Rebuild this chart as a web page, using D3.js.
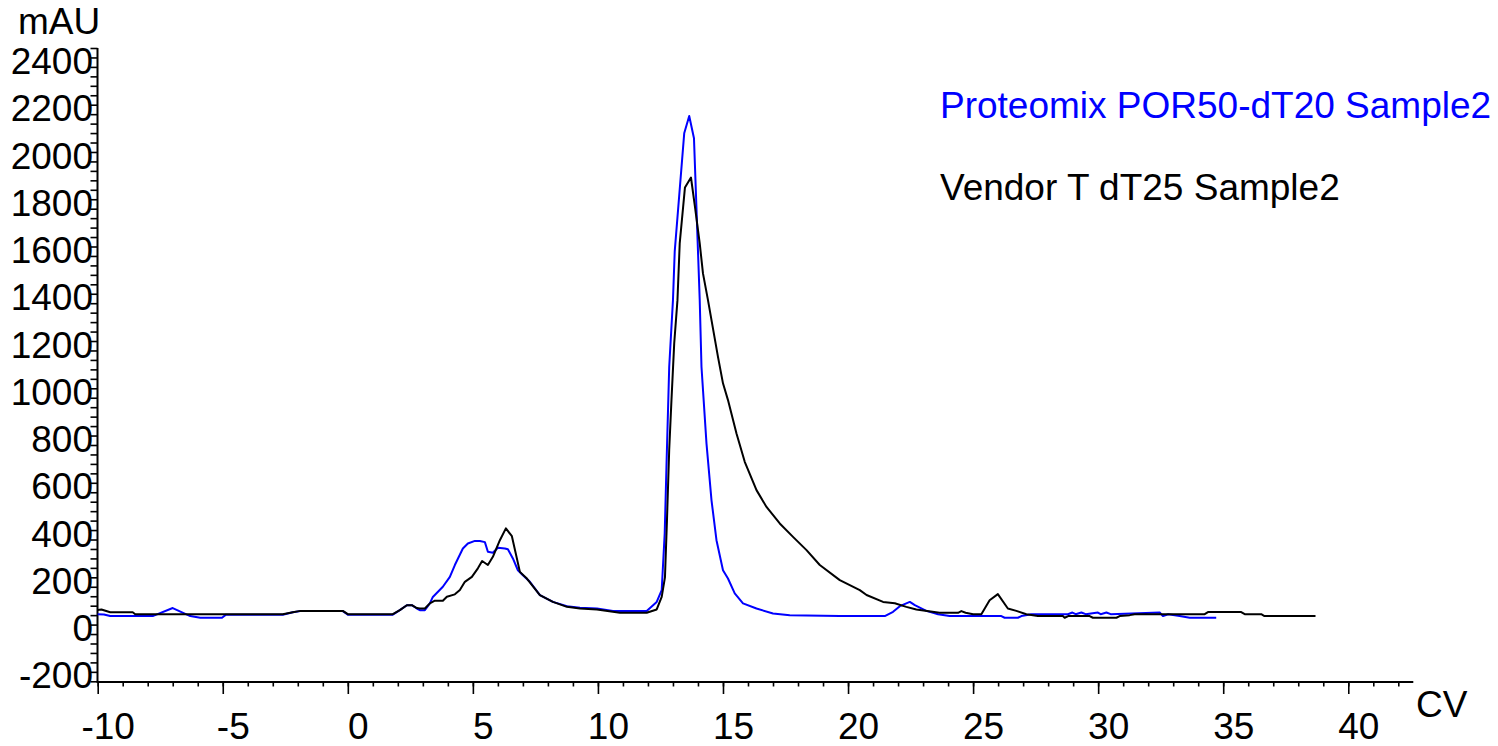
<!DOCTYPE html>
<html>
<head>
<meta charset="utf-8">
<script src="https://cdn.jsdelivr.net/npm/d3@7"></script>
<style>
  html, body { margin: 0; padding: 0; background: #fff; }
  svg text { font-family: "Liberation Sans", Arial, sans-serif; }
</style>
</head>
<body>
<svg id="chart" width="1498" height="746"></svg>
<script>
// ---- data (CV, mAU) ----
const blueCV = [-10.0,-9.75,-9.5,-7.8,-7.0,-6.3,-5.9,-5.03,-4.87,-2.6,-2.2,-1.9,-0.2,0.0,1.8,2.08,2.36,2.56,2.76,2.88,3.08,3.28,3.40,3.80,4.08,4.28,4.60,4.80,5.08,5.28,5.48,5.60,5.80,6.00,6.28,6.40,6.60,6.80,7.00,7.28,7.68,8.20,8.76,9.28,9.96,10.60,11.95,12.35,12.55,12.67,12.74,12.85,13.00,13.07,13.45,13.65,13.84,14.07,14.14,14.34,14.54,14.74,15.00,15.20,15.47,15.80,16.34,17.00,17.67,19.67,21.47,21.80,22.07,22.47,22.67,23.13,23.60,24.06,26.13,26.26,26.79,26.93,27.33,28.79,28.97,29.1,29.33,29.5,29.99,30.1,30.33,30.5,32.46,32.59,32.8,33.26,33.66,34.72];
const blueMAU = [4,3,-4,-4,30,-4,-11,-11,2,2,12,17,17,2,2,21,42,42,28,21,21,50,77,120,162,212,282,303,314,314,309,268,264,285,282,279,240,190,169,141,85,56,38,31,28,18,18,56,106,346,628,1051,1333,1538,2039,2112,2018,1333,1051,727,487,317,190,155,92,50,28,7,0,-4,-4,14,38,56,42,18,4,-4,-4,-11,-11,-4,4,4,11,4,11,4,11,4,11,4,11,-4,4,-4,-11,-11];

const blackCV = [-10.0,-9.85,-9.5,-8.6,-8.5,-2.6,-2.2,-1.9,-0.2,0.0,1.8,2.08,2.36,2.56,2.76,2.88,3.08,3.28,3.48,3.80,3.96,4.28,4.48,4.68,4.96,5.20,5.37,5.60,5.80,6.08,6.32,6.56,6.88,7.16,7.68,8.20,8.76,9.28,9.96,10.88,11.95,12.35,12.55,12.68,12.76,12.85,12.94,13.05,13.18,13.27,13.48,13.72,13.88,14.07,14.20,14.40,14.80,15.00,15.20,15.54,15.87,16.34,16.74,17.27,17.80,18.34,18.87,19.67,20.47,20.74,21.40,21.87,22.33,22.73,23.66,24.4,24.53,24.7,25.0,25.33,25.66,25.99,26.39,26.73,27.13,27.59,28.59,28.66,28.8,29.66,29.79,30.73,30.86,31.26,31.46,34.26,34.39,35.72,35.86,36.52,36.65,38.69];
const blackMAU = [22,24,12,12,4,4,12,18,18,4,4,21,42,42,30,28,28,50,61,61,78,88,106,141,162,198,229,212,247,317,367,334,183,155,85,56,35,28,24,10,10,24,77,160,400,700,910,1150,1333,1573,1810,1852,1728,1573,1446,1333,1093,981,910,769,649,529,458,388,331,275,212,148,106,85,56,50,35,24,10,10,17,10,4,4,63,89,28,18,4,-4,-4,-11,-4,-4,-11,-11,-4,0,4,4,13,13,4,4,-4,-4];

const seriesNames = ["Proteomix POR50-dT20 Sample2", "Vendor T dT25 Sample2"];
const seriesColors = ["#0000ff", "#000000"];

const yMinorTicks = d3.range(-280, 2401, 40);
const yLabelTicks = d3.range(-200, 2401, 200);
const xMinorTicks = d3.range(-10, 43, 1);
const xLabelTicks = d3.range(-10, 41, 5);

// ---- layout ----
const svg = d3.select("#chart");
const x = d3.scaleLinear().domain([-10, 42.6]).range([97.7, 1413.3]);
const y = d3.scaleLinear().domain([-280, 2400]).range([681.3, 48]);
const xAxisY = 682;
const yAxisX = 97.5;
const FONT = 37;

// Y axis (ticks only)
const gy = svg.append("g").attr("transform", `translate(${yAxisX},0)`)
  .call(d3.axisLeft(y).tickValues(yMinorTicks).tickSize(7).tickSizeOuter(0).tickFormat(""));
gy.select(".domain").attr("stroke", "#000").attr("stroke-width", 2)
  .attr("d", `M0,${y(2400)}V${xAxisY}`);
gy.selectAll(".tick line").attr("stroke", "#000").attr("stroke-width", 1.6);

// Y labels (top of text sits at the tick)
svg.append("g").selectAll("text").data(yLabelTicks).join("text")
  .attr("x", 93).attr("y", d => y(d) + 26)
  .attr("text-anchor", "end").attr("font-size", FONT).attr("fill", "#000")
  .text(d => d);

// X axis minor ticks
const gxMinor = svg.append("g").attr("transform", `translate(0,${xAxisY})`)
  .call(d3.axisBottom(x).tickValues(xMinorTicks).tickSize(4.5).tickSizeOuter(0).tickFormat(""));
gxMinor.select(".domain").attr("stroke", "#000").attr("stroke-width", 2)
  .attr("d", `M${yAxisX - 1},0H${x(42.6)}`);
gxMinor.selectAll(".tick line").attr("stroke", "#000").attr("stroke-width", 1.6);

// X axis major ticks with labels
const gxMajor = svg.append("g").attr("transform", `translate(0,${xAxisY})`)
  .call(d3.axisBottom(x).tickValues(xLabelTicks).tickSize(12).tickSizeOuter(0).tickFormat(d3.format("d")));
gxMajor.select(".domain").remove();
gxMajor.selectAll(".tick line").attr("stroke", "#000").attr("stroke-width", 1.6);
gxMajor.selectAll(".tick text")
  .attr("font-size", FONT).attr("font-family", '"Liberation Sans", Arial, sans-serif')
  .attr("fill", "#000").attr("y", 57).attr("dy", 0).attr("dx", 10)
  .text(d => d < 0 ? "-" + Math.abs(d) : d);

// axis titles
svg.append("text").attr("x", 18).attr("y", 34).attr("font-size", FONT).attr("fill", "#000").text("mAU");
svg.append("text").attr("x", 1416).attr("y", 717).attr("font-size", FONT).attr("fill", "#000").text("CV");

// curves
const line = d3.line().x(d => x(d[0])).y(d => y(d[1])).curve(d3.curveLinear);
const blueData = blueCV.map((c, i) => [c, blueMAU[i]]);
const blackData = blackCV.map((c, i) => [c, blackMAU[i]]);

svg.append("path").datum(blueData).attr("d", line)
  .attr("fill", "none").attr("stroke", seriesColors[0]).attr("stroke-width", 2).attr("stroke-linejoin", "round");
svg.append("path").datum(blackData).attr("d", line)
  .attr("fill", "none").attr("stroke", seriesColors[1]).attr("stroke-width", 2).attr("stroke-linejoin", "round");

// legend
const legendY = [118, 200];
svg.append("g").selectAll("text").data(seriesNames).join("text")
  .attr("x", 940).attr("y", (d, i) => legendY[i])
  .attr("font-size", FONT).attr("fill", (d, i) => seriesColors[i])
  .text(d => d);
</script>
</body>
</html>
